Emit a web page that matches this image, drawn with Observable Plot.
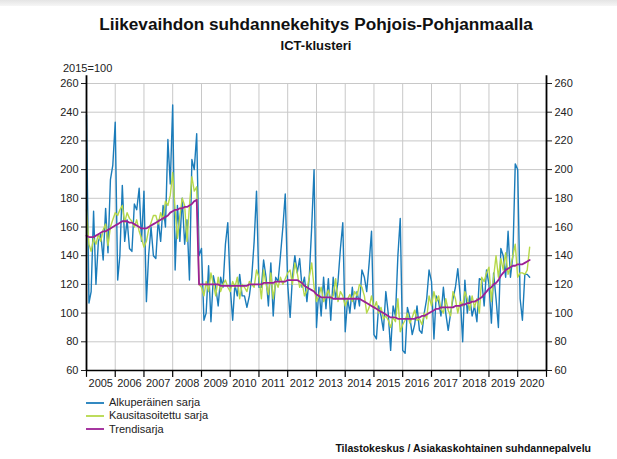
<!DOCTYPE html>
<html><head><meta charset="utf-8">
<script src="https://cdn.jsdelivr.net/npm/d3@7"></script>
<script src="https://cdn.jsdelivr.net/npm/@observablehq/plot@0.6"></script>
<style>
body{margin:0;background:#fff;font-family:"Liberation Sans",Arial,sans-serif;color:#111;}
#wrap{position:relative;width:617px;height:459px;overflow:hidden;background:#fff;}
#band{position:absolute;left:0;top:0;width:617px;height:6px;background:linear-gradient(#e4e4e4,#f6f6f6);}
#chart{position:absolute;left:0;top:0;}
#title{position:absolute;left:15px;width:602px;top:14px;text-align:center;font-weight:bold;font-size:17.2px;line-height:20px;}
#subtitle{position:absolute;left:15px;width:602px;top:38px;text-align:center;font-weight:bold;font-size:13px;line-height:16px;}
#unit{position:absolute;left:63px;top:62px;font-size:11px;line-height:13px;color:#222;}
#legend{position:absolute;left:86px;top:396px;font-size:11px;color:#222;}
#legend .item{height:13.3px;line-height:13.3px;display:flex;align-items:center;}
#legend svg{margin-right:5px;}
#source{position:absolute;right:26px;top:442px;font-size:10.5px;font-weight:bold;line-height:13px;color:#111;}
</style></head>
<body>
<div id="wrap">
  <div id="band"></div>
  <div id="chart"></div>
  <div id="title">Liikevaihdon suhdannekehitys Pohjois-Pohjanmaalla</div>
  <div id="subtitle">ICT-klusteri</div>
  <div id="unit">2015=100</div>
  <div id="legend"></div>
  <div id="source">Tilastokeskus / Asiakaskohtainen suhdannepalvelu</div>
</div>
<script>
// Monthly index values, Jan 2005 .. Jun 2020
const startYear = 2005;
const original = [
 238,107,115,171,120,150,155,137,173,142,193,203,
 233,123,140,189,150,165,145,143,176,172,187,150,
 185,108,140,160,140,138,165,150,175,160,221,190,
 245,130,175,150,180,148,165,123,207,200,225,140,
 145,95,100,133,94,126,118,105,125,118,148,163,
 118,95,120,112,127,112,112,104,112,125,150,185,
 118,118,137,125,105,135,98,125,122,140,160,183,
 120,97,125,140,128,138,118,125,108,125,160,200,
 90,118,98,125,103,124,95,125,110,122,145,163,
 87,110,100,118,103,115,105,130,125,115,135,157,
 85,82,105,98,88,115,100,74,105,98,140,166,
 74,72,104,97,85,92,105,88,86,100,110,130,
 122,82,112,108,98,118,100,88,100,110,118,131,
 112,80,123,100,112,98,105,94,124,123,105,130,
 120,93,128,110,90,145,140,125,157,125,140,204,
 200,110,95,127,127,125
];
const seasonal = [
 172,148,143,152,148,155,150,158,162,147,160,165,
 170,168,172,175,163,170,166,164,160,165,157,152,
 146,150,158,163,168,168,162,170,165,178,175,182,
 198,172,152,168,180,175,150,175,195,185,188,120,
 118,112,122,115,128,120,112,125,115,120,123,118,
 115,122,118,125,110,120,118,115,122,120,118,130,
 125,110,130,120,113,128,110,122,118,125,120,124,
 128,130,120,135,128,118,122,112,116,125,135,118,
 108,112,118,108,112,116,110,112,124,108,115,112,
 105,110,113,108,115,112,120,118,112,100,104,112,
 103,108,100,104,96,98,95,90,97,94,110,87,
 92,95,100,93,97,102,95,96,92,100,96,112,
 105,115,108,112,103,100,110,102,98,115,110,100,
 108,105,115,110,102,112,104,110,100,125,122,128,
 132,108,125,140,125,138,130,142,127,132,140,148,
 125,128,128,127,130,146
];
const trend = [
 154,153,153,153,154,155,156,157,157,158,159,160,
 161,162,163,164,164,164,163,163,162,161,160,159,
 159,159,160,161,162,163,164,165,166,167,168,170,
 171,172,172,173,173,174,174,175,176,178,179,120,
 120,120,120,120,120,120,120,120,119,119,119,119,
 119,119,119,119,119,119,119,119,120,120,120,120,
 120,120,121,121,121,121,121,122,122,122,122,122,
 123,123,123,123,123,122,121,119,118,117,116,115,
 113,112,111,111,111,111,111,110,110,110,110,110,
 110,110,110,110,110,110,110,109,108,107,106,105,
 104,103,102,101,100,99,98,97,97,97,96,96,
 96,96,96,96,96,96,97,97,98,98,99,100,
 101,102,103,103,104,104,104,104,104,104,105,105,
 105,106,106,107,107,108,108,109,110,111,113,115,
 117,118,120,121,123,126,128,130,131,132,133,133,
 134,134,134,135,136,137
];
const seriesNames = ["Alkuperäinen sarja", "Kausitasoitettu sarja", "Trendisarja"];
const seriesColors = ["#1b7cba", "#b6d84a", "#9c2096"];
const years = d3.range(2005, 2021);
const yTicks = d3.range(60, 261, 20);

const rows = original.map((v, i) => ({
  date: new Date(Date.UTC(startYear, i, 1)),
  original: v, seasonal: seasonal[i], trend: trend[i]
}));
const yd = y => new Date(Date.UTC(y, 0, 1));
const x0 = yd(2005), x1 = yd(2021);
const boundaries = d3.range(2005, 2022).map(yd);

const chart = Plot.plot({
  width: 617, height: 459,
  marginTop: 83, marginBottom: 89, marginLeft: 86, marginRight: 71,
  x: {type: "utc", domain: [x0, x1], axis: null},
  y: {domain: [60, 260]},
  style: {fontFamily: "Liberation Sans, Arial, sans-serif", fontSize: "11px", color: "#222", background: "transparent", overflow: "visible"},
  marks: [
    Plot.ruleY(yTicks.filter(v => v > 60), {stroke: "#c8c8c8", strokeWidth: 1, strokeOpacity: 1}),
    Plot.ruleX(boundaries.slice(1, -1), {y1: 60, y2: 260, stroke: "#c8c8c8", strokeWidth: 1, strokeOpacity: 1}),
    Plot.axisY({anchor: "left", ticks: yTicks, tickSize: 5, tickPadding: 3, label: null, tickFormat: d => String(d)}),
    Plot.axisY({anchor: "right", ticks: yTicks, tickSize: 5, tickPadding: 3, label: null, tickFormat: d => String(d)}),
    Plot.ruleX(boundaries, {y1: 60, y2: 55.2, stroke: "#000", strokeWidth: 1.2}),
    Plot.text(years, {x: y => new Date(Date.UTC(y, 6, 1)), y: 60, dy: 13, text: y => String(y), fontSize: 11, fill: "#222"}),
    Plot.line(rows, {x: "date", y: "original", stroke: seriesColors[0], strokeWidth: 1.4}),
    Plot.line(rows, {x: "date", y: "seasonal", stroke: seriesColors[1], strokeWidth: 1.4}),
    Plot.line(rows, {x: "date", y: "trend", stroke: seriesColors[2], strokeWidth: 1.8}),
    Plot.ruleX([x0, x1], {y1: 60, y2: 265.4, stroke: "#000", strokeWidth: 1.8}),
    Plot.ruleY([60], {stroke: "#000", strokeWidth: 1.6})
  ]
});
document.getElementById("chart").appendChild(chart);

const legend = document.getElementById("legend");
seriesNames.forEach((name, i) => {
  const item = document.createElement("div");
  item.className = "item";
  item.innerHTML = `<svg width="18" height="4"><line x1="0" y1="2" x2="18" y2="2" stroke="${seriesColors[i]}" stroke-width="1.8"/></svg><span>${name}</span>`;
  legend.appendChild(item);
});
</script>
</body></html>
